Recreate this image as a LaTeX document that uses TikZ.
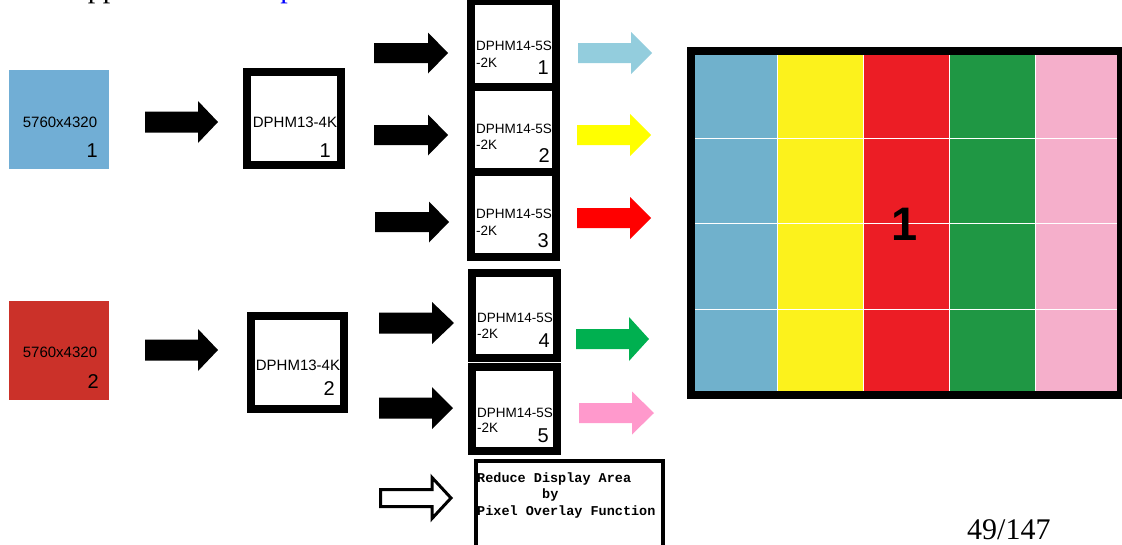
\documentclass[tikz,border=0pt]{standalone}
\usepackage{fontspec}
\setmainfont{Liberation Serif}
\newfontfamily\arialf{Liberation Sans}
\newfontfamily\monof{Liberation Mono}
\definecolor{srcblue}{HTML}{71AED5}
\definecolor{srcred}{HTML}{CB3129}
\definecolor{arlblue}{HTML}{93CDDD}
\definecolor{aryellow}{HTML}{FFFF00}
\definecolor{arred}{HTML}{FF0000}
\definecolor{argreen}{HTML}{00B050}
\definecolor{arpink}{HTML}{FF99CC}
\definecolor{dblue}{HTML}{70B1CC}
\definecolor{dyellow}{HTML}{FCF21C}
\definecolor{dred}{HTML}{EC1D25}
\definecolor{dgreen}{HTML}{1F9744}
\definecolor{dpink}{HTML}{F5AFCB}
\definecolor{linkblue}{HTML}{0000FF}
% block arrow: style, x start, x head start, x tip, y centre, shaft half, head half
\newcommand{\blkarrow}[7]{\path[#1] ({#2},{#5-#6}) -- ({#3},{#5-#6}) -- ({#3},{#5-#7}) -- ({#4},{#5}) -- ({#3},{#5+#7}) -- ({#3},{#5+#6}) -- ({#2},{#5+#6}) -- cycle;}
\begin{document}
\begin{tikzpicture}[x=1pt,y=-1pt,
  srcbox/.style={minimum width=100pt, minimum height=99pt, inner sep=0pt, draw=none},
  devbox/.style={draw=black, line width=8pt, fill=white, inner sep=0pt, line join=miter},
  smalltxt/.style={font=\arialf\fontsize{13.5}{15}\selectfont, inner sep=0pt, anchor=base west},
  midtxt/.style={font=\arialf\fontsize{15}{17}\selectfont, inner sep=0pt, anchor=base},
  numtxt/.style={font=\arialf\fontsize{20}{22}\selectfont, inner sep=0pt, anchor=base east},
  monotxt/.style={font=\monof\bfseries\fontsize{13.5}{16.5}\selectfont, inner sep=0pt, anchor=base west},
  blackarrow/.style={fill=black},
]
\useasboundingbox (0,0) rectangle (1122,544);

% clipped heading at the top
\node[font=\fontsize{30}{32}\selectfont, inner sep=0pt, anchor=base west] (head) at (66,-3) {Application \textcolor{linkblue}{example}};

% sources
\node[srcbox, fill=srcblue] (s1) at (59,119) {};
\node[midtxt] (s1t) at (60,127) {5760x4320};
\node[numtxt] (s1n) at (98,157) {1};
\node[srcbox, fill=srcred] (s2) at (59,350) {};
\node[midtxt] (s2t) at (60,357) {5760x4320};
\node[numtxt] (s2n) at (99,388) {2};

% arrows sources -> DPHM13
\blkarrow{blackarrow}{145}{198}{218}{122}{10.5}{21}
\blkarrow{blackarrow}{145}{198}{218}{350}{10.5}{21}

% DPHM13-4K boxes
\node[devbox, minimum width=94pt, minimum height=93pt] (h1) at (294,118.5) {};
\node[midtxt] (h1t) at (295,127) {DPHM13-4K};
\node[numtxt] (h1n) at (331,157) {1};
\node[devbox, minimum width=93pt, minimum height=93pt] (h2) at (297.5,362.5) {};
\node[midtxt] (h2t) at (298,370) {DPHM13-4K};
\node[numtxt] (h2n) at (335,395) {2};

% black arrows into DPHM14 boxes
\blkarrow{blackarrow}{374}{428}{448}{53}{10}{20.5}
\blkarrow{blackarrow}{374}{428}{448}{135}{10}{20.5}
\blkarrow{blackarrow}{375}{429}{449}{222}{10}{20.5}
\blkarrow{blackarrow}{379}{432}{454}{323}{10.5}{21}
\blkarrow{blackarrow}{379}{432}{453}{408}{10.5}{21}
\blkarrow{draw=black, line width=3pt, fill=white, line join=miter}{380.5}{432}{451}{498}{8.5}{20.5}

% DPHM14-5S-2K boxes
\node[devbox, minimum width=85pt, minimum height=86pt] (m1) at (513.5,44) {};
\node[devbox, minimum width=85pt, minimum height=85pt] (m2) at (513.5,129.5) {};
\node[devbox, minimum width=85pt, minimum height=85pt] (m3) at (513.5,214.5) {};
\node[devbox, minimum width=85pt, minimum height=85pt] (m4) at (514.5,315.5) {};
\node[devbox, minimum width=85pt, minimum height=84pt] (m5) at (514.5,409) {};

\node[smalltxt] (m1a) at (476,50) {DPHM14-5S};
\node[smalltxt] (m1b) at (476,67) {-2K};
\node[numtxt] (m1n) at (549,74) {1};
\node[smalltxt] (m2a) at (476,133) {DPHM14-5S};
\node[smalltxt] (m2b) at (476,149) {-2K};
\node[numtxt] (m2n) at (550,162) {2};
\node[smalltxt] (m3a) at (476,218) {DPHM14-5S};
\node[smalltxt] (m3b) at (476,235) {-2K};
\node[numtxt] (m3n) at (549,247) {3};
\node[smalltxt] (m4a) at (477,322) {DPHM14-5S};
\node[smalltxt] (m4b) at (477,338) {-2K};
\node[numtxt] (m4n) at (550,347) {4};
\node[smalltxt] (m5a) at (477,417) {DPHM14-5S};
\node[smalltxt] (m5b) at (477,432) {-2K};
\node[numtxt] (m5n) at (549,442) {5};

% coloured output arrows
\blkarrow{fill=arlblue}{578}{631}{652}{53}{10}{21}
\blkarrow{fill=aryellow}{577}{630}{651}{135}{10}{21}
\blkarrow{fill=arred}{577}{630}{651}{218}{10}{21}
\blkarrow{fill=argreen}{576}{629}{649}{339}{10}{22}
\blkarrow{fill=arpink}{579}{632}{654}{413}{10}{21.5}

% pixel overlay box
\node[draw=black, line width=4pt, minimum width=187pt, minimum height=110pt, inner sep=0pt, anchor=north west] (po) at (474,459) {};
\node[monotxt] (pot1) at (477,482) {Reduce Display Area};
\node[monotxt] (pot2) at (542,498) {by};
\node[monotxt] (pot3) at (477,515) {Pixel Overlay Function};

% display wall
\fill[dblue]   (695,55) rectangle (777,391);
\fill[dyellow] (777,55) rectangle (863,391);
\fill[dred]    (863,55) rectangle (949,391);
\fill[dgreen]  (949,55) rectangle (1035,391);
\fill[dpink]   (1035,55) rectangle (1117,391);
\foreach \yy in {138,223,309} {\draw[white, line width=1pt] (695,\yy) -- (1117,\yy);}
\foreach \xx in {777,863,949,1035} {\draw[white, line width=0.8pt] (\xx,55) -- (\xx,391);}
\node[draw=black, line width=8pt, minimum width=430pt, minimum height=344pt, inner sep=0pt, line join=miter] (disp) at (906,223) {};
\node[font=\arialf\bfseries\fontsize{47}{50}\selectfont, inner sep=0pt] (dispn) at (905,224) {1};

% page number
\node[font=\fontsize{30}{32}\selectfont, inner sep=0pt, anchor=base west] (page) at (967,539) {49/147};
\end{tikzpicture}
\end{document}
